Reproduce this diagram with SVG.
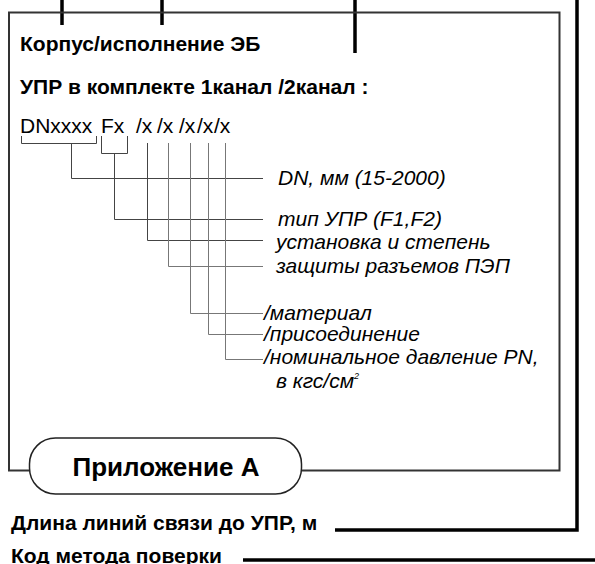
<svg xmlns="http://www.w3.org/2000/svg" width="595" height="564" viewBox="0 0 595 564">
<style>
  .hdr { font-family: "Liberation Sans", Arial, sans-serif; font-weight: bold; font-size: 21px; fill: #000; }
  .code { font-family: "Liberation Sans", Arial, sans-serif; font-size: 21px; fill: #000; }
  .desc { font-family: "Liberation Sans", Arial, sans-serif; font-style: italic; font-size: 21px; fill: #000; }
  .thick { stroke: #000; stroke-width: 3.5; fill: none; }
  .thin { stroke: #444; stroke-width: 1; fill: none; }
  .gray { stroke: #777; stroke-width: 1; fill: none; }
</style>
<rect width="595" height="564" fill="#fff"/>

<g id="connectors">
  <path class="thick" d="M62 0 V25"/>
  <path class="thick" d="M162 0 V25"/>
  <path class="thick" d="M355 0 V53"/>
  <path class="thick" d="M335 530 H577 V0"/>
  <path class="thick" d="M243 560 H595"/>
</g>

<g id="frame">
  <rect x="9" y="12.5" width="550.5" height="458" fill="none" stroke="#333" stroke-width="2"/>
</g>

<g id="header">
  <text class="hdr" x="20" y="51">Корпус/исполнение ЭБ</text>
  <text class="hdr" x="20" y="94">УПР в комплекте 1канал /2канал :</text>
</g>

<g id="code">
  <text class="code" x="20" y="133">DNxxxx</text>
  <text class="code" x="101" y="133">Fx</text>
  <text class="code" x="136" y="133">/x</text>
  <text class="code" x="157" y="133">/x</text>
  <text class="code" x="179" y="133">/x</text>
  <text class="code" x="197" y="133">/x</text>
  <text class="code" x="214" y="133">/x</text>
</g>

<g id="legend-lines">
  <path class="thin" d="M21.5 136 V143.5 H96.5 V136"/>
  <path class="thin" d="M71.5 143.5 V178.5 H263"/>
  <path class="thin" d="M101.5 136 V153.5 H127.5 V136"/>
  <path class="thin" d="M114.5 153.5 V219.5 H263"/>
  <path class="thin" d="M147.5 143 V240.5 H263"/>
  <path class="gray" d="M168.5 143 V266.5 H263"/>
  <path class="gray" d="M190.5 143 V313.5 H263"/>
  <path class="gray" d="M208.5 143 V334.5 H263"/>
  <path class="gray" d="M225.5 143 V359.5 H263"/>
</g>

<g id="descriptions">
  <text class="desc" x="278" y="185">DN, мм (15-2000)</text>
  <text class="desc" x="278" y="226">тип УПР (F1,F2)</text>
  <text class="desc" x="276" y="249">установка и степень</text>
  <text class="desc" x="276" y="273">защиты разъемов ПЭП</text>
  <text class="desc" x="264" y="320">/материал</text>
  <text class="desc" x="264" y="341">/присоединение</text>
  <text class="desc" x="264" y="364">/номинальное давление PN,</text>
  <text class="desc" x="276" y="388">в кгс/см<tspan font-size="9" dy="-9">2</tspan></text>
</g>

<g id="appendix">
  <rect x="29.5" y="438" width="272" height="56" rx="26" fill="#fff" stroke="#222" stroke-width="1.5"/>
  <text x="166" y="476" text-anchor="middle" font-family="Liberation Sans, Arial, sans-serif" font-weight="bold" font-size="26">Приложение А</text>
</g>

<g id="footer">
  <text class="hdr" x="11" y="530">Длина линий связи до УПР, м</text>
  <text class="hdr" x="11" y="563">Код метода поверки</text>
</g>
</svg>
